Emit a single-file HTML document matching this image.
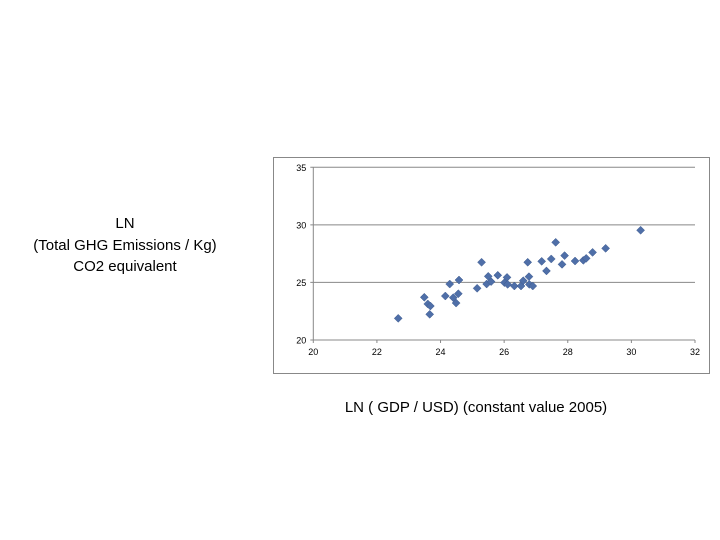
<!DOCTYPE html>
<html><head><meta charset="utf-8"><style>
html,body{margin:0;padding:0;background:#fff;width:720px;height:540px;overflow:hidden;font-family:"Liberation Sans",sans-serif}
.lab{position:absolute;font-size:15px;color:#000;text-align:center;line-height:21.5px}
</style></head><body>
<div class="lab" style="left:0;width:250px;top:213px">LN<br>(Total GHG Emissions / Kg)<br>CO2 equivalent</div>
<div class="lab" style="left:276px;width:400px;top:397px">LN ( GDP / USD) (constant value 2005)</div>
<svg id="chart" width="720" height="540" style="position:absolute;left:0;top:0">
<rect x="273.5" y="157.5" width="436" height="216" fill="#fff" stroke="#888" stroke-width="1"/>
</svg>
<script>
const xs=[22.67,23.49,23.6,23.68,23.66,24.15,24.29,24.40,24.49,24.56,24.58,25.15,25.29,25.45,25.50,25.59,25.80,26.01,26.09,26.11,26.32,26.53,26.60,26.74,26.78,26.79,26.90,27.18,27.33,27.48,27.62,27.82,27.90,28.23,28.49,28.58,28.78,29.19,30.29];
const ys=[21.88,23.71,23.13,22.95,22.23,23.82,24.86,23.68,23.21,24.02,25.21,24.49,26.75,24.86,25.53,25.07,25.62,24.98,25.44,24.83,24.69,24.69,25.15,26.75,25.50,24.83,24.69,26.83,26.0,27.04,28.48,26.57,27.33,26.86,26.92,27.09,27.61,27.96,29.53];
const xTicks=[20,22,24,26,28,30,32];
const yTicks=[20,25,30,35];
const X0=313.3,X1=695,Y0=340,Y1=167.3;
const sx=v=>X0+(v-20)/12*(X1-X0);
const sy=v=>Y0-(v-20)/15*(Y0-Y1);
const svg=document.getElementById('chart');
const NS='http://www.w3.org/2000/svg';
function mk(t,a){const e=document.createElementNS(NS,t);for(const k in a)e.setAttribute(k,a[k]);svg.appendChild(e);return e;}
yTicks.forEach(t=>{
  const g=mk('line',{x1:X0-3,x2:X1,y1:sy(t),y2:sy(t),stroke:'#888','stroke-width':1});
  
  
  const l=mk('text',{x:X0-7,y:sy(t)+3.5,'font-size':9,'text-anchor':'end',fill:'#000','font-family':'Liberation Sans, sans-serif'});
  l.textContent=t;
  
  
});
const ax=mk('line',{x1:X0,x2:X0,y1:Y1,y2:Y0,stroke:'#888','stroke-width':1});


xTicks.forEach(t=>{
  const tk=mk('line',{x1:sx(t),x2:sx(t),y1:Y0,y2:Y0+3,stroke:'#888','stroke-width':1});
  
  
  const l=mk('text',{x:sx(t),y:Y0+15,'font-size':9,'text-anchor':'middle',fill:'#000','font-family':'Liberation Sans, sans-serif'});
  l.textContent=t;
  
  
});
xs.forEach((v,i)=>{
  const cx=sx(v),cy=sy(ys[i]),r=4;
  const p=mk('polygon',{points:`${cx},${cy-r} ${cx+r},${cy} ${cx},${cy+r} ${cx-r},${cy}`,fill:'#4f6fa8',stroke:'#3d5a8e','stroke-width':0.5});
  
  
});
</script>
</body></html>
